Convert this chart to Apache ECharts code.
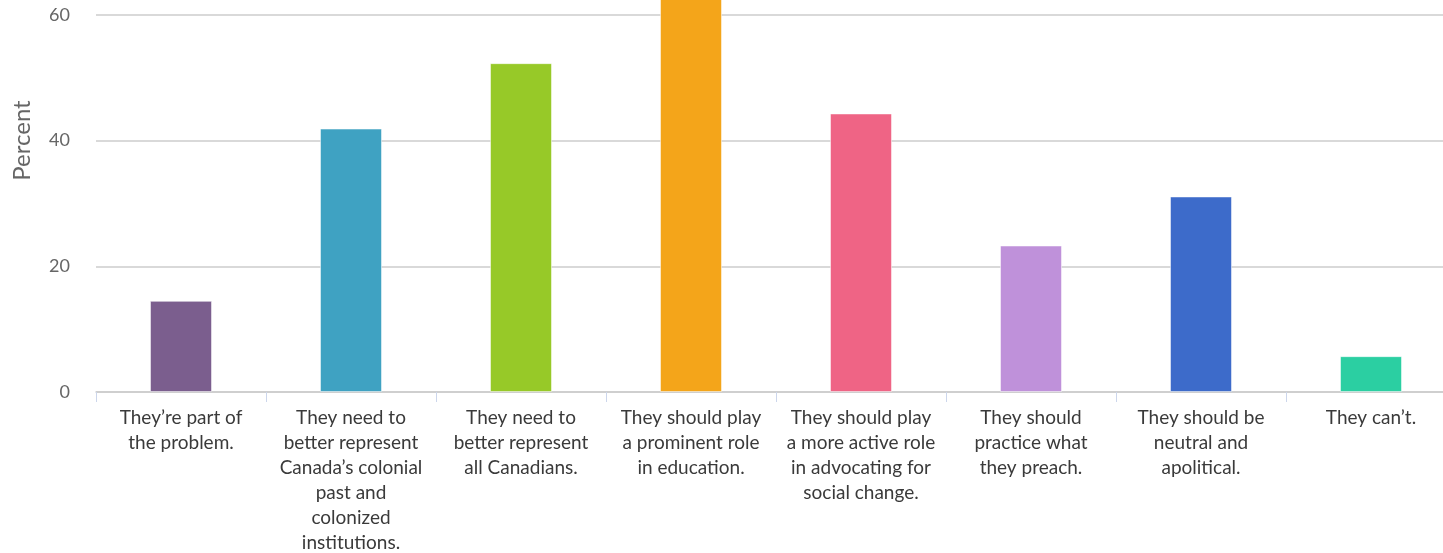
<!DOCTYPE html>
<html>
<head>
<meta charset="utf-8">
<script src="https://cdn.jsdelivr.net/npm/echarts@6/dist/echarts.min.js"></script>
<style>
  html, body { margin: 0; padding: 0; background: #fff; overflow: hidden; }
  body { width: 1443px; height: 553px; position: relative; }
  /* the reference is cropped: top of the plot and the last category edge lie outside the window */
  #chart { position: absolute; left: 0; top: -111px; width: 1456px; height: 664px; }
</style>
</head>
<body>
<div id="chart"></div>
<script>
const categories = [
  'They\u2019re part of\nthe problem.',
  'They need to\nbetter represent\nCanada\u2019s colonial\npast and\ncolonized\ninstitutions.',
  'They need to\nbetter represent\nall Canadians.',
  'They should play\na prominent role\nin education.',
  'They should play\na more active role\nin advocating for\nsocial change.',
  'They should\npractice what\nthey preach.',
  'They should be\nneutral and\napolitical.',
  'They can\u2019t.'
]
const percents = [14.5, 41.9, 52.3, 66.0, 44.3, 23.3, 31.1, 5.7]
const barColors = ['#7b5e8e', '#3fa2c2', '#97c928', '#f4a51a', '#ef6485', '#bf91da', '#3d6bca', '#2bcfa2']
const yTicks = [0, 20, 40, 60, 80]

const chart = echarts.init(document.getElementById('chart'))

const options = {
  animation: false,
  textStyle: { fontFamily: 'Lato, "Open Sans", sans-serif' },
  grid: { left: 96, right: 0, top: 0, bottom: 161, outerBoundsMode: 'none', containLabel: false },
  xAxis: {
    type: 'category',
    data: categories,
    axisLine: { lineStyle: { color: '#cccccc', width: 1.5 } },
    axisTick: { show: true, length: 10, lineStyle: { color: '#ccd6eb' } },
    axisLabel: {
      interval: 0,
      margin: 13,
      fontSize: 19,
      lineHeight: 25,
      color: '#3a3a3a',
      fontFamily: 'Lato'
    }
  },
  yAxis: {
    type: 'value',
    min: yTicks[0],
    max: yTicks[yTicks.length - 1],
    interval: 20,
    name: 'Percent',
    nameLocation: 'middle',
    nameGap: 62,
    nameTextStyle: { fontSize: 24, color: '#666666', fontFamily: 'Lato' },
    axisLine: { show: false },
    axisTick: { show: false },
    axisLabel: { margin: 26, fontSize: 18, color: '#666666', fontFamily: 'Lato' },
    splitLine: { lineStyle: { color: '#cccccc', width: 1.5 } }
  },
  series: [
    {
      type: 'bar',
      barWidth: 62,
      data: percents.map((v, i) => ({
        value: v,
        itemStyle: { color: barColors[i], borderColor: 'rgba(255,255,255,0.5)', borderWidth: 1 }
      }))
    }
  ]
}

chart.setOption(options)
</script>
</body>
</html>
